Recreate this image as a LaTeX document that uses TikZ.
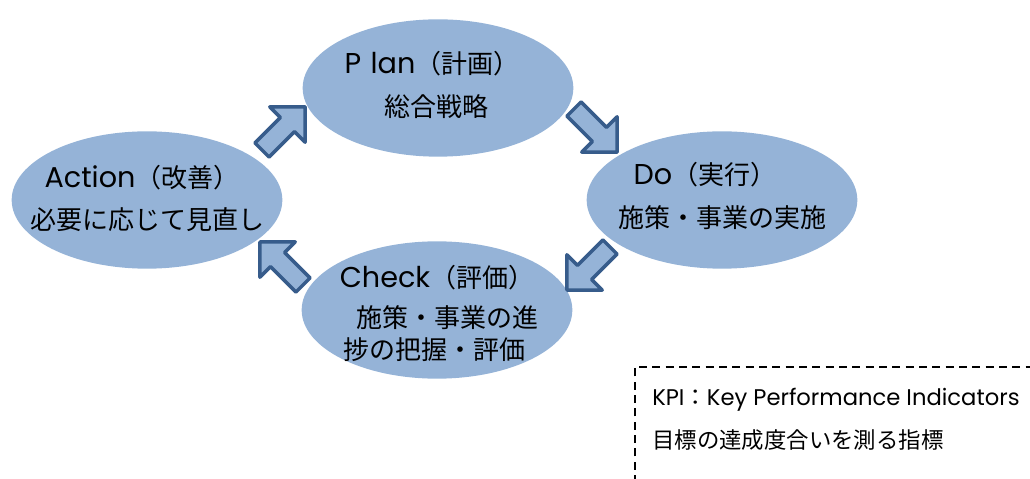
\documentclass[tikz,border=0pt]{standalone}
\usepackage{fontspec}
\setmainfont{Noto Sans CJK JP}
\newfontfamily\latfont{Poppins}
\usetikzlibrary{shapes.geometric}
\definecolor{ellfill}{HTML}{95B3D7}
\definecolor{arrdraw}{HTML}{375C8B}
\newcommand{\lt}[1]{{\latfont\fontsize{21.5}{24}\selectfont #1}}
\newcommand{\klt}[1]{{\latfont\fontsize{17}{20}\selectfont #1}}
\tikzset{
  ell/.style={ellipse, fill=ellfill, draw=none, inner sep=0pt, minimum width=203pt, minimum height=103pt},
  lbl/.style={inner sep=0pt, font=\fontsize{19.5}{24}\selectfont, text=black},
  kpi/.style={inner sep=0pt, anchor=west, font=\fontsize{16.8}{20}\selectfont, text=black},
  blockarrow/.pic={
    \draw[arrdraw, line width=2.6pt, fill=ellfill, line join=round]
      (0,-10) -- (36,-10) -- (36,-25) -- (61,0) -- (36,25) -- (36,10) -- (0,10) -- cycle;
  }
}
\begin{document}
\begin{tikzpicture}[x=0.75pt,y=0.75pt]
\useasboundingbox (0,0) rectangle (1030,478);
% ellipses (y = 478 - pixel y)
\node[ell] (plan) at (438,390) {};
\node[ell] (do) at (722,278) {};
\node[ell] (check) at (437,168) {};
\node[ell] (action) at (147,278) {};
% texts
\node[lbl] (plan1) at (432,414) {\lt{P\,\,lan}（計画）};
\node[lbl] (plan2) at (436,371) {総合戦略};
\node[lbl] (do1) at (705,303) {\lt{Do}（実行）};
\node[lbl] (do2) at (722,260) {施策・事業の実施};
\node[lbl] (act1) at (142,300) {\lt{Action}（改善）};
\node[lbl] (act2) at (147,258) {必要に応じて見直し};
\node[lbl] (chk1) at (437,200) {\lt{Check}（評価）};
\node[lbl] (chk2) at (447,160) {施策・事業の進};
\node[lbl] (chk3) at (434,128) {捗の把握・評価};
% block arrows
\pic[rotate=45] at (262,328) {blockarrow};
\pic[rotate=-45] at (574,369) {blockarrow};
\pic[rotate=-135] at (610,231) {blockarrow};
\pic[rotate=135] at (303,193) {blockarrow};
% KPI box
\coordinate (boxbl) at (635,-5);
\coordinate (boxtl) at (635,111);
\coordinate (boxtr) at (1040,111);
\draw[black, line width=1.3pt, dash pattern=on 6pt off 4pt] (boxbl) -- (boxtl) -- (boxtr);
\node[kpi] (kpi1) at (652,78) {\klt{KPI}：\klt{Key Performance Indicators}};
\node[kpi] (kpi2) at (652,38) {目標の達成度合いを測る指標};
\end{tikzpicture}
\end{document}
